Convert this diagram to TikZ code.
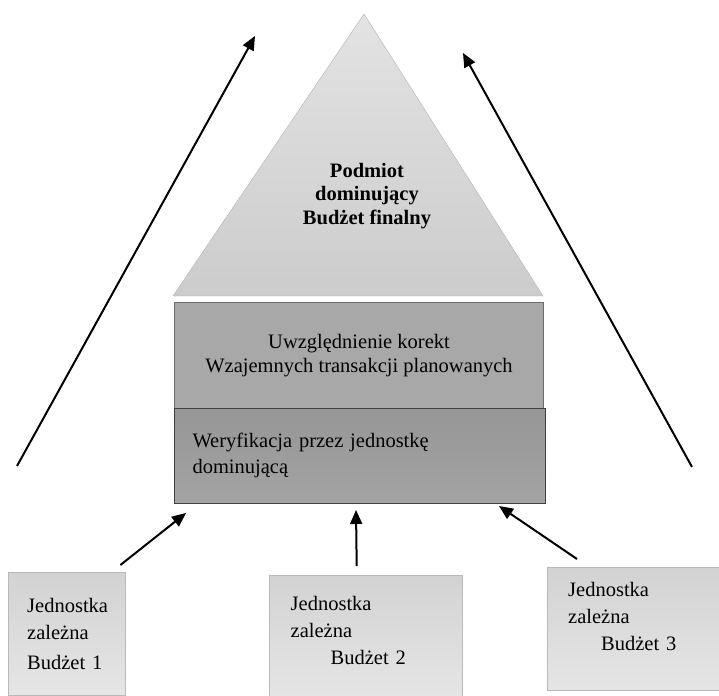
\documentclass[tikz,border=0pt]{standalone}
\usepackage{fontspec}
\setmainfont{Liberation Serif}
\usetikzlibrary{positioning,arrows.meta}

\begin{document}
\begin{tikzpicture}[
    x=1pt, y=-1pt,
    layer/.style={rectangle, anchor=north west, inner sep=0pt, line width=1pt, font=\fontsize{20.5}{24}\selectfont},
    unit/.style={rectangle, anchor=north west, draw=gray!55, top color=gray!35, bottom color=gray!20, minimum height=123pt, inner xsep=19pt, align=left, font=\fontsize{20.5}{27}\selectfont},
    arrow/.style={line width=2pt, -{Triangle[length=14pt, width=12pt]}}
]
    \useasboundingbox (0,0) rectangle (719,695);

    % Pyramid
    \coordinate (apexL) at (173,296);
    \coordinate (apexT) at (364,14);
    \coordinate (apexR) at (543,296);
    \draw[gray!60, top color=gray!22, bottom color=gray!40] (apexL) -- (apexT) -- (apexR) -- cycle;
    \node[align=center, font=\bfseries\fontsize{20.5}{23.5}\selectfont] (dominant) at (367,196) {Podmiot\\dominujący\\Budżet finalny};

    % Layers
    \node[layer, draw=gray!85!black, fill=gray!68, minimum width=369pt, minimum height=106pt, align=center] (korekty) at (174,302) {Uwzględnienie korekt\\Wzajemnych transakcji planowanych};
    \node[layer, draw=black!75, top color=gray!82, bottom color=gray!72, minimum width=371pt, minimum height=95pt, text width=335pt, inner xsep=18pt, align=left, font=\fontsize{20.5}{26}\selectfont] (weryfikacja) at (174,408) {Weryfikacja przez jednostkę\\dominującą\\[-20pt]\mbox{}};

    % Subsidiaries
    \node[unit, minimum width=117pt, text width=79pt] (jedn1) at (8,572) {Jednostka\\zależna\\[3pt]Budżet 1};
    \node[unit, minimum width=193pt, text width=150pt] (jedn2) at (269,575) {Jednostka\\zależna\\\hspace*{40pt}Budżet 2\\[-15pt]\mbox{}};
    \node[unit, minimum width=172pt, text width=130pt] (jedn3) at (547,567) {Jednostka\\zależna\\\hspace*{33pt}Budżet 3\\[-3pt]\mbox{}};

    % Arrow ends
    \coordinate (leftLow) at (17,466);
    \coordinate (leftHigh) at (255,36);
    \coordinate (rightLow) at (692,467);
    \coordinate (rightHigh) at (463,53);
    \coordinate (tip1) at (186,513);
    \coordinate (tip2) at (356,510);
    \coordinate (tip3) at (499,506);

    % Arrows
    \draw[arrow] (leftLow) -- (leftHigh);
    \draw[arrow] (rightLow) -- (rightHigh);
    \draw[arrow] ([xshift=-5pt, yshift=7pt]jedn1.north east) -- (tip1);
    \draw[arrow] ([xshift=-9pt, yshift=9pt]jedn2.north) -- (tip2);
    \draw[arrow] ([xshift=30pt, yshift=8pt]jedn3.north west) -- (tip3);
\end{tikzpicture}
\end{document}
